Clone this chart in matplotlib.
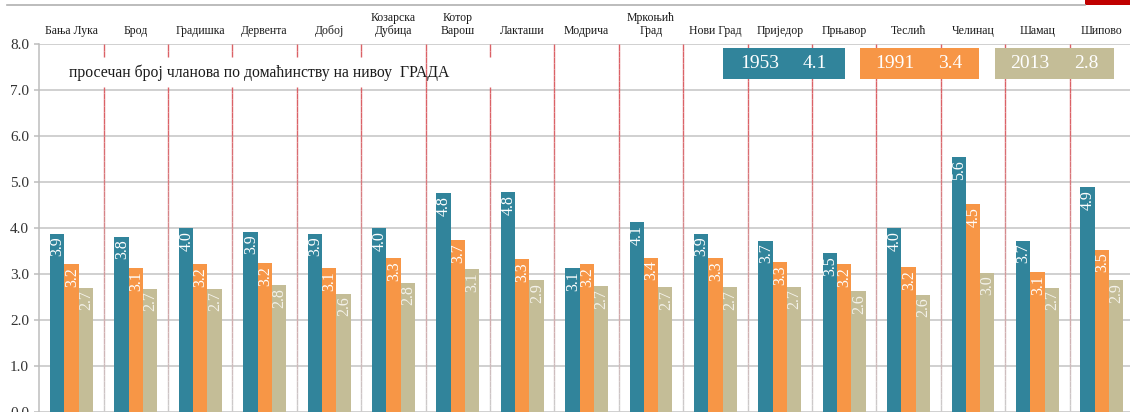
import matplotlib
matplotlib.use("Agg")
import matplotlib.pyplot as plt
import numpy as np
from matplotlib.collections import LineCollection
from matplotlib.patches import Rectangle
from matplotlib.lines import Line2D
import matplotlib.transforms as mtransforms

# ---------------- data ----------------
categories = ["Бања Лука", "Брод", "Градишка", "Дервента", "Добој",
              "Козарска\nДубица", "Котор\nВарош", "Лакташи", "Модрича",
              "Мркоњић\nГрад", "Нови Град", "Приједор", "Прњавор", "Теслић",
              "Челинац", "Шамац", "Шипово"]
v1953 = [3.87, 3.81, 4.00, 3.92, 3.87, 3.99, 4.76, 4.78, 3.12, 4.12, 3.88,
         3.72, 3.45, 3.99, 5.54, 3.72, 4.89]
v1991 = [3.21, 3.12, 3.21, 3.23, 3.12, 3.34, 3.73, 3.32, 3.21, 3.35, 3.34,
         3.25, 3.21, 3.15, 4.52, 3.04, 3.53]
v2013 = [2.70, 2.68, 2.68, 2.75, 2.57, 2.81, 3.10, 2.86, 2.73, 2.71, 2.71,
         2.72, 2.62, 2.55, 3.03, 2.70, 2.86]
l1953 = ["3.9", "3.8", "4.0", "3.9", "3.9", "4.0", "4.8", "4.8", "3.1", "4.1",
         "3.9", "3.7", "3.5", "4.0", "5.6", "3.7", "4.9"]
l1991 = ["3.2", "3.1", "3.2", "3.2", "3.1", "3.3", "3.7", "3.3", "3.2", "3.4",
         "3.3", "3.3", "3.2", "3.2", "4.5", "3.1", "3.5"]
l2013 = ["2.7", "2.7", "2.7", "2.8", "2.6", "2.8", "3.1", "2.9", "2.7", "2.7",
         "2.7", "2.7", "2.6", "2.6", "3.0", "2.7", "2.9"]
years = ["1953", "1991", "2013"]
year_avgs = ["4.1", "3.4", "2.8"]
yticks = [0, 1, 2, 3, 4, 5, 6, 7, 8]
subtitle = "просечан број чланова по домаћинству на нивоу  ГРАДА"

colors = ["#31849B", "#F79646", "#C4BD97"]
label_colors = ["#ffffff", "#ffffff", "#f4f2ea"]
SERIF = ["Liberation Serif", "DejaVu Serif"]
plt.rcParams["font.family"] = SERIF

W, H = 1130, 412
fig = plt.figure(figsize=(W / 100, H / 100), dpi=100)
fig.patch.set_facecolor("white")

# axes placement (pixel based)
ax_left, ax_right = 39.3, 1134.0
ax_top, ax_bot = 44.4, 411.6
ax = fig.add_axes([ax_left / W, (H - ax_bot) / H,
                   (ax_right - ax_left) / W, (ax_bot - ax_top) / H])
ax.set_xlim(-0.5, len(categories) - 0.5)
ax.set_ylim(0, 8)
ax.set_facecolor("white")

x = np.arange(len(categories))
bw = 0.222
series = [v1953, v1991, v2013]
labels = [l1953, l1991, l2013]
for k, (vals, labs) in enumerate(zip(series, labels)):
    xs = x + (k - 1) * bw
    ax.bar(xs, vals, width=bw, color=colors[k], zorder=3, linewidth=0)
    for xi, v, lab in zip(xs, vals, labs):
        ax.annotate(lab, (xi, v), xytext=(0.3, -2.0), textcoords="offset points",
                    rotation=90, ha="center", va="top", fontsize=11.5,
                    color=label_colors[k], zorder=4, family=SERIF)

# horizontal gridlines
for yv in yticks:
    ax.axhline(yv, color="#c3c3c3", lw=1.1, zorder=1)

# vertical separators: red at top fading to grey at bottom, some broken behind subtitle
gap_lo, gap_hi = 7.18, 7.68
broken = {0, 1, 2, 3, 4, 6}
top_c = np.array([0.86, 0.38, 0.40])
bot_c = np.array([0.80, 0.80, 0.80])
nseg = 60
ys = np.linspace(0, 8, nseg + 1)
segs, cols = [], []
for k in range(len(categories) - 1):
    xv = k + 0.5
    for j in range(nseg):
        y0, y1 = ys[j], ys[j + 1]
        if k in broken and y1 > gap_lo and y0 < gap_hi:
            continue
        segs.append([(xv, y0), (xv, y1)])
        t = ((y0 + y1) / 2) / 8.0
        t = min(1.0, t * 1.25)
        cols.append(tuple(bot_c + (top_c - bot_c) * t))
lc = LineCollection(segs, colors=cols, linewidths=1.0, zorder=2)
ax.add_collection(lc)

# spines and ticks
for s in ["top", "right", "bottom"]:
    ax.spines[s].set_visible(False)
ax.spines["left"].set_color("#bdbdbd")
ax.spines["left"].set_linewidth(1.1)
ax.set_xticks([])
ax.set_yticks(yticks)
ax.set_yticklabels([f"{t:.1f}" for t in yticks], fontsize=11, color="#333333")
ax.tick_params(axis="y", length=3.5, width=1.1, color="#bdbdbd", pad=4)

# category labels above the plot
trans = mtransforms.blended_transform_factory(ax.transData, ax.transAxes)
for i, c in enumerate(categories):
    ax.annotate(c, (i, 1.0), xycoords=trans, xytext=(0, 5.5),
                textcoords="offset points", ha="center", va="bottom",
                fontsize=8.5, color="#1a1a1a", multialignment="center",
                linespacing=1.05, annotation_clip=False)

# subtitle
fig.text(69 / W, 1 - 73 / H, subtitle, fontsize=11.3, color="#1a1a1a",
         ha="left", va="center")

# legend boxes
boxes = [(723, 845), (860, 979), (995, 1114)]
year_x = [(760, 815), (895, 950), (1030, 1086)]
for (x0, x1), (tx0, tx1), yr, av, col in zip(boxes, year_x, years, year_avgs, colors):
    fig.add_artist(Rectangle((x0 / W, 1 - 79 / H), (x1 - x0) / W, 31 / H,
                             transform=fig.transFigure, facecolor=col,
                             edgecolor="none", zorder=5))
    fig.text(tx0 / W, 1 - 64 / H, yr, fontsize=14, color="white",
             ha="center", va="center", zorder=6)
    fig.text(tx1 / W, 1 - 64 / H, av, fontsize=14, color="white",
             ha="center", va="center", zorder=6)

# top decoration line and red block
fig.add_artist(Line2D([7 / W, 1085 / W], [1 - 5 / H, 1 - 5 / H],
                      transform=fig.transFigure, color="#b0b0b0", lw=1.2))
fig.add_artist(Rectangle((1085 / W, 1 - 5 / H), 45 / W, 5 / H,
                         transform=fig.transFigure, facecolor="#c00000",
                         edgecolor="none"))

fig.savefig("out.png", dpi=100, facecolor="white")
